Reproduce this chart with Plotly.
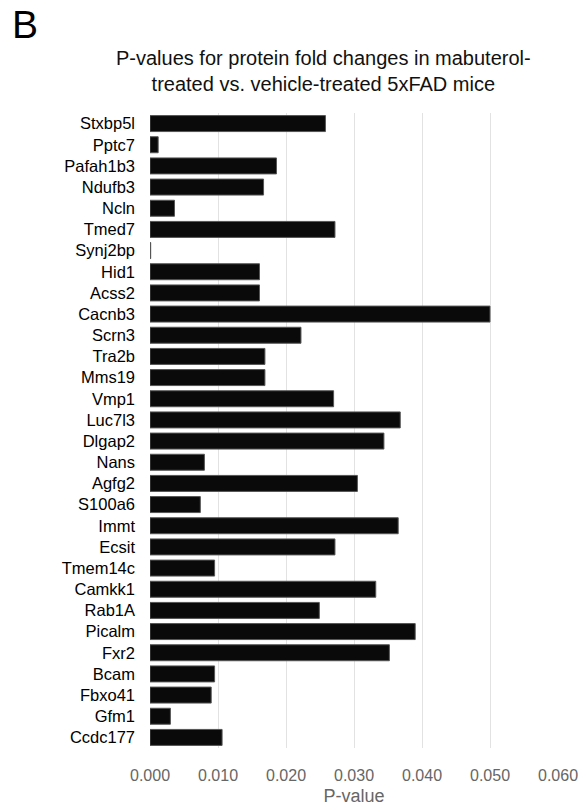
import plotly.graph_objects as go

proteins = ["Stxbp5l", "Pptc7", "Pafah1b3", "Ndufb3", "Ncln", "Tmed7", "Synj2bp",
            "Hid1", "Acss2", "Cacnb3", "Scrn3", "Tra2b", "Mms19", "Vmp1", "Luc7l3",
            "Dlgap2", "Nans", "Agfg2", "S100a6", "Immt", "Ecsit", "Tmem14c",
            "Camkk1", "Rab1A", "Picalm", "Fxr2", "Bcam", "Fbxo41", "Gfm1", "Ccdc177"]
p_values = [0.0258, 0.0012, 0.0186, 0.0167, 0.0036, 0.0272, 0.0001,
            0.0161, 0.0161, 0.0500, 0.0222, 0.0169, 0.0169, 0.0270, 0.0368,
            0.0344, 0.0080, 0.0305, 0.0074, 0.0365, 0.0272, 0.0095,
            0.0332, 0.0249, 0.0390, 0.0352, 0.0095, 0.0090, 0.0030, 0.0106]
x_ticks = [0.0, 0.01, 0.02, 0.03, 0.04, 0.05, 0.06]
x_tick_text = ["0.000", "0.010", "0.020", "0.030", "0.040", "0.050", "0.060"]

FONT = "Liberation Sans, Arial, Helvetica, sans-serif"

fig = go.Figure(go.Bar(
    x=p_values, y=proteins, orientation="h",
    marker=dict(color="#0a0a0a", line=dict(color="#555555", width=1)),
    hoverinfo="x+y",
))

W, H = 580, 806
L, R, T, B = 150, 22, 113, 58

fig.update_layout(
    width=W, height=H,
    margin=dict(l=L, r=R, t=T, b=B, pad=0),
    paper_bgcolor="white", plot_bgcolor="white",
    font=dict(family=FONT, color="#000000"),
    bargap=0.245,
    showlegend=False,
    xaxis=dict(
        range=[0, 0.06], tickvals=x_ticks, ticktext=x_tick_text,
        showgrid=True, gridcolor="#e2e2e2", gridwidth=1,
        zeroline=False, showline=False, ticks="",
        tickfont=dict(size=16, color="#666666", family=FONT),
        title=dict(text="P-value", font=dict(size=18, color="#666666", family=FONT), standoff=7),
        ticklabelstandoff=16,
        automargin=False,
        fixedrange=True,
    ),
    yaxis=dict(
        categoryorder="array", categoryarray=proteins, autorange="reversed",
        showgrid=False, zeroline=False, showline=False, ticks="",
        tickfont=dict(size=16.5, color="#000000", family=FONT),
        ticklabelstandoff=14,
        automargin=False,
        fixedrange=True,
    ),
    annotations=[
        dict(text="P-values for protein fold changes in mabuterol-<br>treated vs. vehicle-treated 5xFAD mice",
             xref="paper", yref="paper", x=(323 - L) / (W - L - R), y=(H - B - 71) / (H - T - B),
             xanchor="center", yanchor="middle", showarrow=False, align="center",
             font=dict(size=20, color="#111111", family=FONT)),
        dict(text="B", xref="paper", yref="paper", x=(10 - L) / (W - L - R), y=(H - B - 24) / (H - T - B),
             xanchor="left", yanchor="middle", showarrow=False,
             font=dict(size=39, color="#000000", family=FONT)),
    ],
)

fig.write_html("out.html", config={"displayModeBar": False},
               post_script="document.body.style.margin='0px';document.body.style.overflow='hidden';")
